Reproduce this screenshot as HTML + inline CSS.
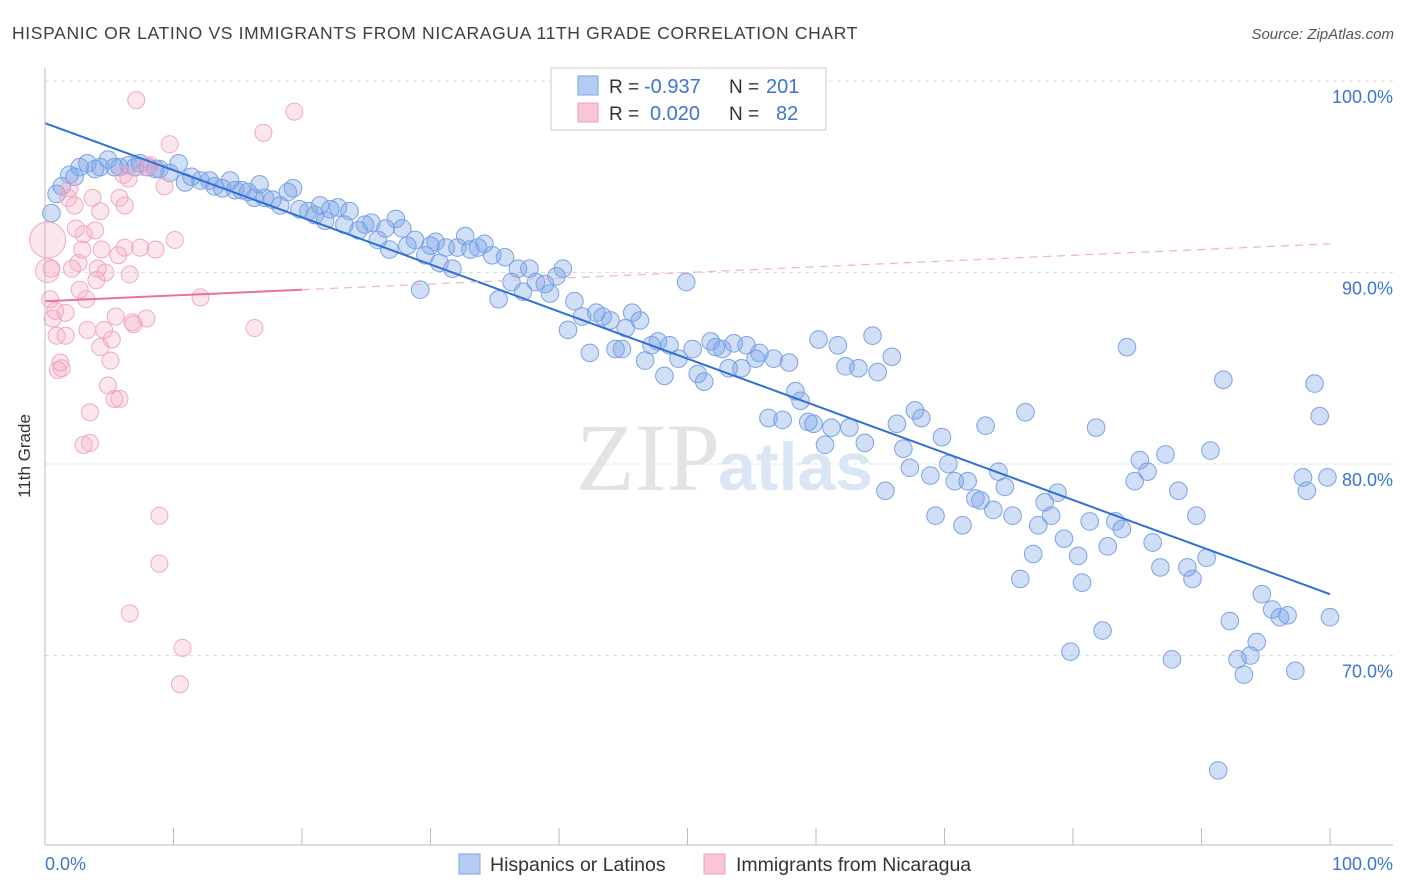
<!DOCTYPE html>
<html><head><meta charset="utf-8"><style>
body{margin:0;background:#fff;font-family:"Liberation Sans",sans-serif;}
svg{display:block}
</style></head><body>
<svg id="chart" width="1406" height="892">
<text x="12" y="39" font-size="17.5" letter-spacing="0.65" fill="#3e3e3e">HISPANIC OR LATINO VS IMMIGRANTS FROM NICARAGUA 11TH GRADE CORRELATION CHART</text>
<text x="1394" y="39" font-size="15" fill="#555" text-anchor="end" font-style="italic">Source: ZipAtlas.com</text>
<g id="grid"></g>
<text x="720" y="490" font-size="96" fill="#e3e3e3" text-anchor="end" font-family="Liberation Serif, serif">ZIP</text>
<text x="718" y="490" font-size="68" fill="#dbe6f5" font-weight="bold">atlas</text>
<g id="pts"></g>
<g id="lines"></g>
<line x1="45" y1="68" x2="45" y2="845" stroke="#bbb"/>
<line x1="45" y1="845" x2="1393" y2="845" stroke="#bbb"/>
<g id="xt"></g>
<text x="30" y="456" font-size="17" fill="#333" text-anchor="middle" transform="rotate(-90 30 456)">11th Grade</text>
<text x="45" y="870" font-size="18" fill="#3b74d4">0.0%</text>
<text x="1393" y="870" font-size="18" fill="#3b74d4" text-anchor="end">100.0%</text>
<g>
<rect x="551" y="68" width="275" height="62" fill="#fff" stroke="#ccc"/>
<rect x="578" y="76" width="20" height="19" fill="#b5cdf3" stroke="#7aa3e6"/>
<rect x="578" y="103" width="20" height="19" fill="#f9c6d6" stroke="#ee9fba"/>
<text x="609" y="93" font-size="19" fill="#333">R =</text>
<text x="644" y="93" font-size="20" fill="#3b74d4">-0.937</text>
<text x="729" y="93" font-size="19" fill="#333">N =</text>
<text x="766" y="93" font-size="20" fill="#3b74d4">201</text>
<text x="609" y="120" font-size="19" fill="#333">R =</text>
<text x="650" y="120" font-size="20" fill="#3b74d4">0.020</text>
<text x="729" y="120" font-size="19" fill="#333">N =</text>
<text x="776" y="120" font-size="20" fill="#3b74d4">82</text>
</g>
<g>
<rect x="459" y="854" width="21" height="20" fill="#b5cdf3" stroke="#7aa3e6"/>
<text x="490" y="871" font-size="19.5" fill="#333">Hispanics or Latinos</text>
<rect x="704" y="854" width="21" height="20" fill="#f9c6d6" stroke="#ee9fba"/>
<text x="736" y="871" font-size="19.5" fill="#333">Immigrants from Nicaragua</text>
</g>
</svg>
<script>
const yTicks=[100,90,80,70];
const yTickLabels=["100.0%","90.0%","80.0%","70.0%"];
const xTicks=[0,10,20,30,40,50,60,70,80,90,100];
const blueX=[0.5,0.9,1.3,1.9,2.3,2.7,3.3,3.9,4.3,4.9,5.4,5.8,6.5,7.0,7.4,8.0,8.6,8.9,9.7,10.4,10.9,11.4,12.1,12.8,13.2,13.8,14.4,14.8,15.3,15.8,16.3,16.7,17.1,17.7,18.3,18.9,19.3,19.8,20.5,21.0,21.4,21.8,22.2,22.8,23.3,23.7,24.4,24.9,25.4,25.9,26.5,26.8,27.3,27.8,28.2,28.8,29.2,29.6,30.0,30.4,30.7,31.2,31.7,32.1,32.7,33.1,33.7,34.2,34.8,35.3,35.8,36.3,36.8,37.2,37.7,38.2,38.9,39.3,39.8,40.3,40.7,41.2,41.8,42.4,42.9,43.4,44.0,44.4,44.9,45.2,45.7,46.3,46.7,47.2,47.7,48.2,48.6,49.3,49.9,50.4,50.8,51.3,51.8,52.2,52.7,53.2,53.6,54.2,54.6,55.3,55.6,56.3,56.7,57.4,57.9,58.4,58.8,59.4,59.8,60.2,60.7,61.2,61.7,62.3,62.6,63.3,63.8,64.4,64.8,65.4,65.9,66.3,66.8,67.3,67.7,68.2,68.9,69.3,69.8,70.3,70.8,71.4,71.8,72.4,72.8,73.2,73.8,74.2,74.7,75.3,75.9,76.3,76.9,77.3,77.8,78.3,78.8,79.3,79.8,80.4,80.7,81.3,81.8,82.3,82.7,83.3,83.8,84.2,84.8,85.2,85.8,86.2,86.8,87.2,87.7,88.2,88.9,89.3,89.6,90.4,90.7,91.3,91.7,92.2,92.8,93.3,93.8,94.3,94.7,95.5,96.1,96.7,97.3,97.9,98.2,98.8,99.2,99.8,100];
const blueY=[93.1,94.1,94.5,95.1,95.0,95.5,95.7,95.4,95.5,95.9,95.5,95.5,95.6,95.5,95.7,95.5,95.4,95.4,95.2,95.7,94.7,95.0,94.8,94.8,94.5,94.4,94.8,94.3,94.3,94.2,93.9,94.6,93.9,93.8,93.5,94.2,94.4,93.3,93.2,93.0,93.5,92.7,93.3,93.4,92.5,93.2,92.2,92.5,92.6,91.7,92.3,91.2,92.8,92.3,91.4,91.7,89.1,90.9,91.4,91.6,90.5,91.3,90.2,91.3,91.9,91.2,91.3,91.5,90.9,88.6,90.8,89.5,90.2,89.0,90.2,89.5,89.4,88.9,89.8,90.2,87.0,88.5,87.7,85.8,87.9,87.7,87.5,86.0,86.0,87.1,87.9,87.5,85.4,86.2,86.4,84.6,86.2,85.5,89.5,86.0,84.7,84.3,86.4,86.1,86.0,85.0,86.3,85.0,86.2,85.5,85.8,82.4,85.5,82.3,85.3,83.8,83.3,82.2,82.1,86.5,81.0,81.9,86.2,85.1,81.9,85.0,81.1,86.7,84.8,78.6,85.6,82.1,80.8,79.8,82.8,82.4,79.4,77.3,81.4,80.0,79.1,76.8,79.1,78.2,78.1,82.0,77.6,79.6,78.8,77.3,74.0,82.7,75.3,76.8,78.0,77.3,78.5,76.1,70.2,75.2,73.8,77.0,81.9,71.3,75.7,77.0,76.6,86.1,79.1,80.2,79.6,75.9,74.6,80.5,69.8,78.6,74.6,74.0,77.3,75.1,80.7,64.0,84.4,71.8,69.8,69.0,70.0,70.7,73.2,72.4,72.0,72.1,69.2,79.3,78.6,84.2,82.5,79.3,72.0];
const pinkX=[0.2,0.2,0.5,0.4,0.8,0.6,0.9,1.0,1.2,1.3,1.6,1.6,1.8,1.9,2.1,2.3,2.4,2.6,2.7,2.9,3.0,3.2,3.3,3.0,3.5,3.5,3.7,3.9,4.0,4.1,4.3,4.3,4.4,4.6,4.7,4.9,5.1,5.2,5.4,5.5,5.7,5.8,5.8,6.1,6.2,6.2,6.5,6.6,6.8,6.9,7.1,7.4,7.7,7.9,8.2,8.6,8.9,8.9,9.3,9.7,10.1,6.6,10.7,10.5,12.1,16.3,17.0,19.4];
const pinkY=[91.7,90.1,90.2,88.6,88.0,87.6,86.7,84.9,85.3,85.0,87.9,86.7,93.9,94.4,90.2,93.5,92.3,90.5,89.1,91.2,92.0,88.6,87.0,81.0,82.7,81.1,93.9,92.2,89.6,90.2,93.2,86.1,91.2,87.0,90.0,84.1,85.4,86.5,83.4,87.7,90.9,83.4,93.9,95.1,93.5,91.3,94.9,89.9,87.4,87.3,99.0,91.3,95.5,87.6,95.6,91.2,77.3,74.8,94.5,96.7,91.7,72.2,70.4,68.5,88.7,87.1,97.3,98.4];
const pinkR=[18,12];
const blueTrend=[97.8,73.2];
const pinkTrend=[88.5,91.5];
const pinkSolidEnd=20;

const sx=v=>45+v*12.85;
const sy=v=>81+(100-v)*19.15;
const NS="http://www.w3.org/2000/svg";
function mk(tag,attrs,parent){const e=document.createElementNS(NS,tag);for(const k in attrs)e.setAttribute(k,attrs[k]);parent.appendChild(e);return e;}
const grid=document.getElementById('grid');
yTicks.forEach((t,i)=>{
  const l=mk('line',{x1:45,x2:1393,y1:sy(t),y2:sy(t),stroke:'#ddd','stroke-dasharray':'4,4'},grid);
  
  
  const tx=mk('text',{x:1393,y:sy(t)+22,'font-size':18,fill:'#3b74d4','text-anchor':'end'},grid);
  tx.textContent=yTickLabels[i];
  
  
});
const xt=document.getElementById('xt');
xTicks.forEach(t=>{
  const l=mk('line',{x1:sx(t),x2:sx(t),y1:828,y2:845,stroke:'#bbb'},xt);
  
  
});
const pts=document.getElementById('pts');
blueX.forEach((x,i)=>{
  const c=mk('circle',{cx:sx(x),cy:sy(blueY[i]),r:8.8,fill:'rgba(120,160,230,0.35)',stroke:'#7aa3e6','stroke-width':1},pts);
  
  
});
pinkX.forEach((x,i)=>{
  const c=mk('circle',{cx:sx(x),cy:sy(pinkY[i]),r:pinkR[i]||8.5,fill:'rgba(245,165,195,0.28)',stroke:'#f2a8c0','stroke-width':1},pts);
  
  
});
const lines=document.getElementById('lines');
const bl=mk('line',{x1:sx(0),y1:sy(blueTrend[0]),x2:sx(100),y2:sy(blueTrend[1]),stroke:'#2e6fd8','stroke-width':2},lines);


const pAt=x=>pinkTrend[0]+(pinkTrend[1]-pinkTrend[0])*x/100;
const ps=mk('line',{x1:sx(0),y1:sy(pAt(0)),x2:sx(pinkSolidEnd),y2:sy(pAt(pinkSolidEnd)),stroke:'#e8739a','stroke-width':2},lines);


const pd=mk('line',{x1:sx(pinkSolidEnd),y1:sy(pAt(pinkSolidEnd)),x2:sx(100),y2:sy(pAt(100)),stroke:'#f4b3c7','stroke-width':1.2,'stroke-dasharray':'8,6'},lines);


</script>
</body></html>
